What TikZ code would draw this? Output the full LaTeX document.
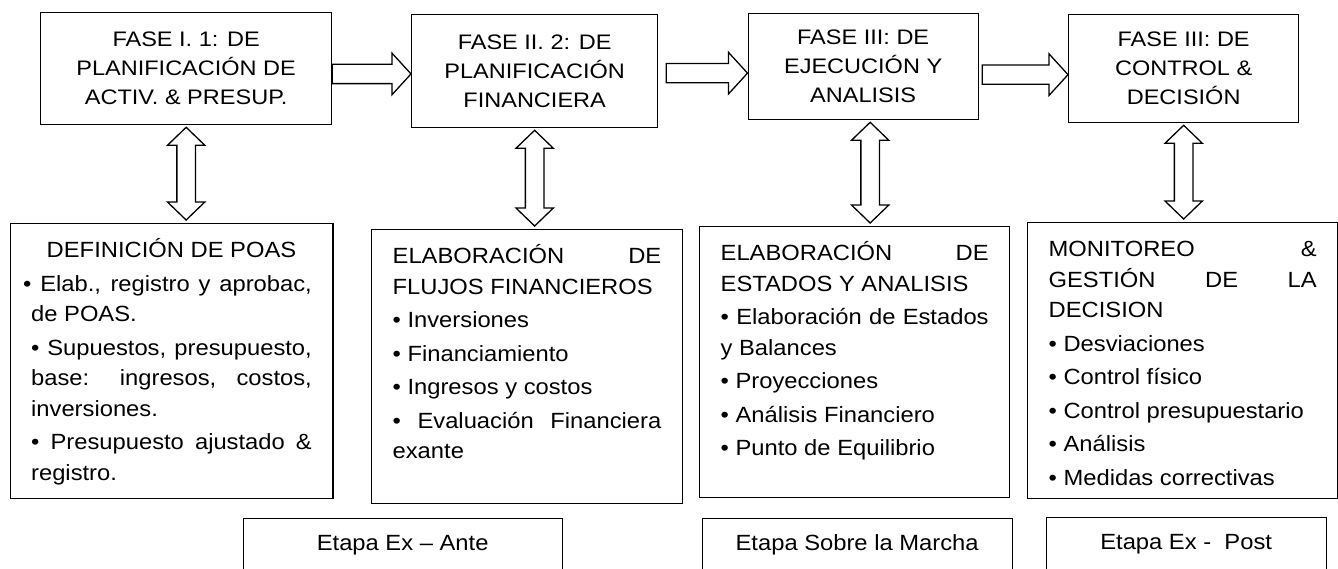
\documentclass[tikz,border=0pt]{standalone}
\usepackage{fontspec}
\setmainfont{Liberation Sans}[FakeStretch=1.08]
\newfontfamily\fasefont{Liberation Sans}[FakeStretch=1.12]
\usetikzlibrary{calc}
\tolerance=10000
\hbadness=10000
\hyphenpenalty=10000
\newcommand{\punto}{\par\vspace{3pt}\textbullet\ }

\begin{document}
\begin{tikzpicture}[x=1pt,y=-1pt,line width=1.3pt,
    fase/.style={draw,anchor=north west,inner sep=0pt,align=center,font=\fasefont\fontsize{21}{29}\selectfont},
    bloque/.style={draw,anchor=north west,inner xsep=21pt,inner ysep=0pt,align=justify,text height=34pt,font=\fontsize{22}{30.5}\selectfont},
    etapa/.style={draw,anchor=north west,inner sep=0pt,align=flush center,text height=32pt,text depth=60pt,font=\fontsize{22}{30}\selectfont},
    flecha/.style={to path={let \p1=(\tikztostart),\p2=(\tikztotarget) in
      (\x1,\y1+9.7pt) -- (\x2-19pt,\y1+9.7pt) -- (\x2-19pt,\y1+20.8pt) -- (\x2,\y1)
      -- (\x2-19pt,\y1-20.8pt) -- (\x2-19pt,\y1-9.7pt) -- (\x1,\y1-9.7pt) -- cycle}},
    dflecha/.style={to path={let \p1=(\tikztostart),\p2=(\tikztotarget) in
      (\x1,\y1-2pt) -- (\x1+18.7pt,\y1-20pt) -- (\x1+9.3pt,\y1-20pt) -- (\x1+9.3pt,\y2+21pt)
      -- (\x1+18.7pt,\y2+21pt) -- (\x1,\y2+3pt) -- (\x1-18.7pt,\y2+21pt) -- (\x1-9.3pt,\y2+21pt)
      -- (\x1-9.3pt,\y1-20pt) -- (\x1-18.7pt,\y1-20pt) -- cycle}}]
  \useasboundingbox (0,0) rectangle (1338,569);

  \node[fase,minimum width=291pt,minimum height=112pt] (planif) at (40,12) {FASE I. 1: DE\\PLANIFICACIÓN DE\\ACTIV. \& PRESUP.};
  \node[fase,minimum width=246pt,minimum height=113pt] (financ) at (411,14) {FASE II. 2: DE\\PLANIFICACIÓN\\FINANCIERA};
  \node[fase,minimum width=230pt,minimum height=106pt] (ejecuc) at (747.5,13) {FASE III: DE\\EJECUCIÓN Y\\ANALISIS};
  \node[fase,minimum width=230pt,minimum height=108pt] (control) at (1068,14) {FASE III: DE\\CONTROL \&\\DECISIÓN};

  \node[bloque,text width=280.7pt,text depth=241pt] (poas) at (9.5,223) {
    \centerline{DEFINICIÓN DE POAS}
    \par\vspace{3pt}\hspace*{-8pt}\textbullet\ Elab., registro y aprobac,\linebreak de POAS.
    \punto Supuestos, presupuesto,\linebreak base: ingresos, costos,\linebreak inversiones.
    \punto Presupuesto ajustado \&\linebreak registro.};
  \node[bloque,text width=268.7pt,text depth=240pt] (flujos) at (371,229) {
    ELABORACIÓN DE\linebreak FLUJOS FINANCIEROS
    \punto Inversiones
    \punto Financiamiento
    \punto Ingresos y costos
    \punto Evaluación Financiera\linebreak exante};
  \node[bloque,text width=268pt,text depth=237pt] (estados) at (699,226) {
    ELABORACIÓN DE\linebreak ESTADOS Y ANALISIS
    \punto Elaboración de Estados\linebreak y Balances
    \punto Proyecciones
    \punto Análisis Financiero
    \punto Punto de Equilibrio};
  \node[bloque,text width=268pt,text depth=242pt] (monitoreo) at (1027,222) {
    MONITOREO \&\linebreak GESTIÓN DE LA\linebreak DECISION
    \punto Desviaciones
    \punto Control físico
    \punto Control presupuestario
    \punto Análisis
    \punto Medidas correctivas};

  \node[etapa,text width=319pt] (exante) at (242.5,518) {Etapa Ex -- Ante};
  \node[etapa,text width=310pt] (marcha) at (701.5,518) {Etapa Sobre la Marcha};
  \node[etapa,text width=280pt] (expost) at (1045.5,517) {Etapa Ex -~ Post};

  \draw ([yshift=-5.3pt]planif.east) to[flecha] (financ.west);
  \draw ([xshift=8pt,yshift=-2pt]financ.east) to[flecha] (ejecuc.west);
  \draw ([xshift=3.4pt,yshift=-8pt]ejecuc.east) to[flecha] (control.west);

  \draw (planif.south) to[dflecha] (poas.north);
  \draw (financ.south) to[dflecha] (flujos.north);
  \draw ([xshift=7pt]ejecuc.south) to[dflecha] (estados.north);
  \draw (control.south) to[dflecha] (monitoreo.north);
\end{tikzpicture}
\end{document}
